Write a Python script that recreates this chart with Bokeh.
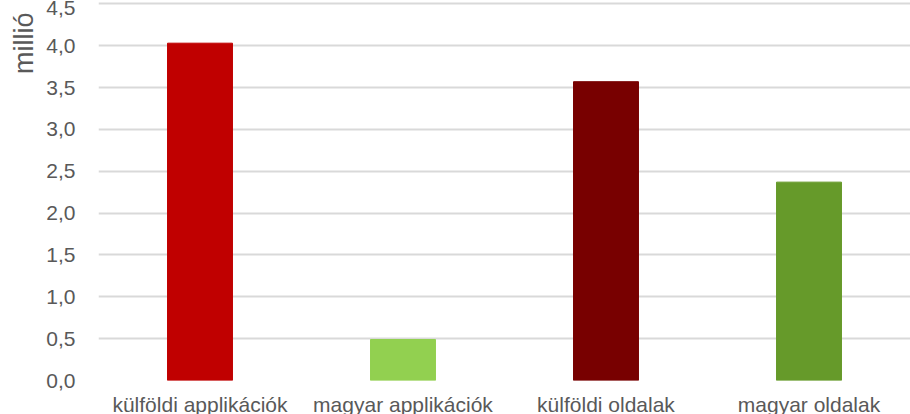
from bokeh.plotting import figure
from bokeh.models import FactorRange, Range1d, FixedTicker, Title, ColumnDataSource
from bokeh.embed import file_html
from bokeh.resources import INLINE

categories = ["külföldi applikációk", "magyar applikációk", "külföldi oldalak", "magyar oldalak"]
values = [4.03, 0.49, 3.57, 2.37]
bar_colors = ["#C00000", "#92D050", "#780000", "#669A2A"]
y_ticks = [0.0, 0.5, 1.0, 1.5, 2.0, 2.5, 3.0, 3.5, 4.0, 4.5]
y_tick_labels = ["0,0", "0,5", "1,0", "1,5", "2,0", "2,5", "3,0", "3,5", "4,0", "4,5"]
y_title = "millió"

FONT = "Liberation Sans"
GREY = "#595959"

src = ColumnDataSource(dict(cat=categories, val=values, col=bar_colors))

p = figure(
    x_range=FactorRange(*categories, range_padding=0),
    y_range=Range1d(0, 4.54),
    width=910, height=418,
    output_backend="svg", toolbar_location=None,
    min_border_left=98, min_border_right=0,
    min_border_top=0, min_border_bottom=38,
)
p.outline_line_color = None
p.background_fill_color = "white"
p.border_fill_color = "white"

p.vbar(x="cat", top="val", width=0.32, color="col", source=src)

p.xgrid.grid_line_color = None
p.ygrid.grid_line_color = "#D9D9D9"
p.ygrid.grid_line_width = 2

p.yaxis.ticker = FixedTicker(ticks=y_ticks)
p.yaxis.major_label_overrides = dict(zip(y_ticks, y_tick_labels))

for ax in (p.xaxis[0], p.yaxis[0]):
    ax.axis_line_color = None
    ax.major_tick_line_color = None
    ax.minor_tick_line_color = None
    ax.major_label_text_font = FONT
    ax.major_label_text_font_size = "21px"
    ax.major_label_text_color = GREY

p.yaxis.major_label_standoff = 17
p.xaxis.major_label_standoff = 6

p.add_layout(Title(text=y_title, align="right", offset=12,
                   text_font=FONT, text_font_size="27px",
                   text_font_style="normal", text_color=GREY), "left")

open("out.html", "w").write(file_html(p, INLINE))
